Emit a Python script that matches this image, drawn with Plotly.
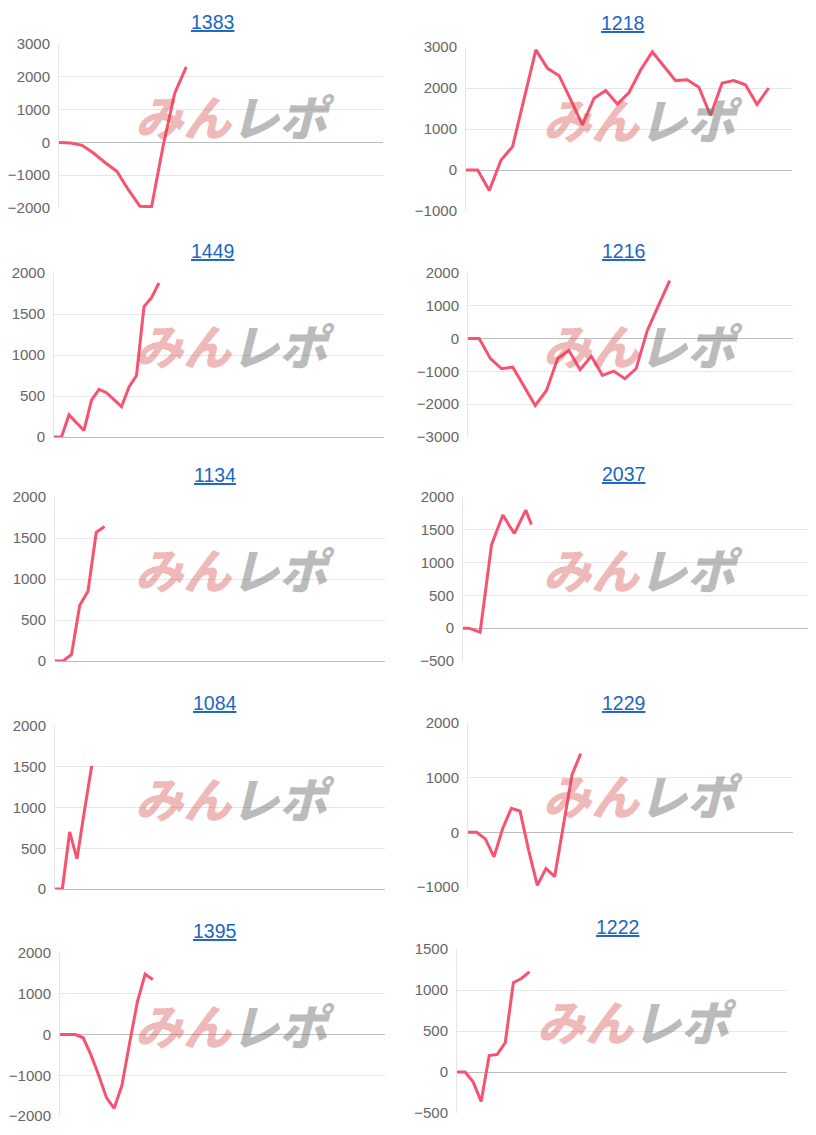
import plotly.graph_objects as go

# ---------------- data ----------------
titles = ["1383", "1218", "1449", "1216", "1134", "2037", "1084", "1229", "1395", "1222"]

vals_1383 = [0, -20, -90, -330, -620, -880, -1450, -1950, -1960, -100, 1500, 2300]
vals_1218 = [0, 0, -500, 240, 570, 1750, 2930, 2480, 2300, 1710, 1100, 1750, 1940, 1610,
             1890, 2440, 2880, 2530, 2180, 2200, 2020, 1330, 2120, 2180, 2080, 1600, 2000]
vals_1449 = [0, 0, 270, 175, 80, 450, 580, 540, 450, 370, 610, 750, 1590, 1700, 1880]
vals_1216 = [0, 0, -610, -920, -870, -1450, -2040, -1580, -610, -360, -950, -540, -1120,
             -990, -1220, -920, 250, 1010, 1770]
vals_1134 = [0, 0, 80, 680, 850, 1570, 1640]
vals_2037 = [0, 0, -30, -60, 600, 1270, 1500, 1725, 1580, 1445, 1620, 1800, 1580]
vals_1084 = [0, 0, 700, 370, 950, 1510]
vals_1229 = [0, 0, -120, -450, 70, 440, 390, -330, -970, -660, -810, 150, 1050, 1440]
vals_1395 = [0, 0, 0, -80, -500, -1000, -1550, -1810, -1250, -200, 800, 1480, 1350]
vals_1222 = [0, 0, -120, -360, 200, 215, 360, 1090, 1140, 1220]

series = [vals_1383, vals_1218, vals_1449, vals_1216, vals_1134,
          vals_2037, vals_1084, vals_1229, vals_1395, vals_1222]

# y-axis ranges and tick steps
y_ranges = [[-2000, 3000], [-1000, 3000], [0, 2000], [-3000, 2000], [0, 2000],
            [-500, 2000], [0, 2000], [-1000, 2000], [-2000, 2000], [-500, 1500]]
y_steps = [1000, 1000, 500, 1000, 500, 500, 500, 1000, 1000, 500]
# number of x slots on each chart's category axis
x_slots = [28, 28, 44, 29, 40, 60.5, 45, 37.5, 42, 41]

# ---------------- layout (page pixels; page body has an 8px margin) ----------------
PAGE_OFF = 8
W, H = 816 - 2 * PAGE_OFF, 1135 - 2 * PAGE_OFF
# plot boxes in page pixels: left, right, top, bottom
boxes = [(59, 383, 44, 208), (466, 792, 47, 211),
         (54, 384, 273, 437), (468, 793, 273, 437),
         (55, 385, 497, 661), (463, 816, 497, 661),
         (55, 385, 726, 889), (468, 793, 723, 887),
         (60, 385, 953, 1116), (457, 787, 949, 1113)]
title_pos = [(213, 22), (622, 23), (213, 251), (623, 251), (215, 475),
             (623, 474), (215, 703), (623, 703), (215, 931), (617, 927)]
wm_x = [235, 643, 235, 643, 235, 643, 235, 643, 235, 637]


def px(x):
    return (x - PAGE_OFF) / W


def py(y):
    return 1 - (y - PAGE_OFF) / H


LINE = "rgb(247,82,112)"
GRID = "#e6e6e6"
ZERO = "#bdbdbd"
FONT = "Liberation Sans, Arial, sans-serif"

fig = go.Figure()
lay = {}
annotations = []
for i, vals in enumerate(series):
    n = i + 1
    sfx = "" if n == 1 else str(n)
    x0, x1, y0, y1 = boxes[i]
    fig.add_trace(go.Scatter(
        x=list(range(len(vals))), y=vals, mode="lines",
        line=dict(color=LINE, width=3), hoverinfo="skip", showlegend=False,
        xaxis="x" + sfx, yaxis="y" + sfx, cliponaxis=False))
    lay["xaxis" + sfx] = dict(domain=[px(x0), min(px(x1), 1.0)], range=[0, x_slots[i]],
                              visible=False, anchor="y" + sfx, fixedrange=True,
                              automargin=False)
    lay["yaxis" + sfx] = dict(domain=[py(y1), py(y0)], range=y_ranges[i],
                              tick0=0, dtick=y_steps[i], anchor="x" + sfx,
                              showgrid=True, gridcolor=GRID, gridwidth=1,
                              zeroline=True, zerolinecolor=ZERO, zerolinewidth=1,
                              showline=True, linecolor=GRID, linewidth=1,
                              ticks="", ticklabelstandoff=5, automargin=False,
                              tickfont=dict(family=FONT, size=15, color="#666666"),
                              fixedrange=True)
    tx, ty = title_pos[i]
    annotations.append(dict(text="<u>" + titles[i] + "</u>", x=px(tx), y=py(ty),
                            xref="paper", yref="paper", xanchor="center", yanchor="middle",
                            showarrow=False,
                            font=dict(family=FONT, size=19.5, color="#1a66c2")))
    cy = (y0 + y1) / 2 - 11
    annotations.append(dict(
        text="<span style='color:rgba(214,70,70,0.38)'>みん</span>"
             "<span style='color:rgba(110,110,110,0.48)'>レポ</span>",
        x=px(wm_x[i]), y=py(cy), xref="paper", yref="paper",
        xanchor="center", yanchor="middle", showarrow=False,
        font=dict(family="Noto Sans CJK JP", size=48, weight=900, style="italic")))

fig.update_layout(width=W, height=H,
                  margin=dict(l=0, r=0, t=0, b=0, pad=0, autoexpand=False),
                  paper_bgcolor="white", plot_bgcolor="white",
                  annotations=annotations, **lay)
fig.write_html("out.html")
